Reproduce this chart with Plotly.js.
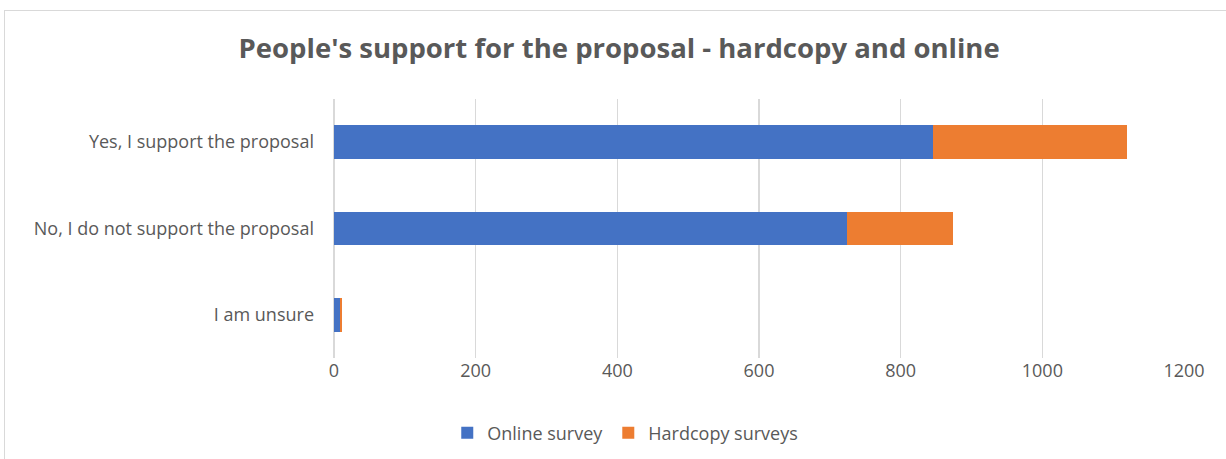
<!DOCTYPE html>
<html>
<head>
<meta charset="utf-8">
<script src="https://cdn.plot.ly/plotly-3.0.1.min.js"></script>
<style>
html,body{margin:0;padding:0;background:#fff;}
#frame{position:absolute;left:4px;top:10px;width:1240px;height:460px;border:1.5px solid #d9d9d9;box-sizing:border-box;}
#chart{position:absolute;left:0;top:0;width:1226px;height:459px;}
</style>
</head>
<body>
<div id="frame"></div>
<div id="chart"></div>
<script>
var categories = ["Yes, I support the proposal", "No, I do not support the proposal", "I am unsure"];
var onlineSurvey = [845, 724, 8];
var hardcopySurveys = [275, 150, 3];
var seriesNames = ["Online survey", "Hardcopy surveys"];
var xTicks = [0, 200, 400, 600, 800, 1000, 1200];

var font = "'Open Sans', Lato, sans-serif";
var traces = [
  {type: "bar", orientation: "h", name: seriesNames[0], y: categories, x: onlineSurvey,
   marker: {color: "#4472C4"}, hoverinfo: "x+name"},
  {type: "bar", orientation: "h", name: seriesNames[1], y: categories, x: hardcopySurveys,
   marker: {color: "#ED7D31"}, hoverinfo: "x+name"}
];
var layout = {
  width: 1226, height: 459,
  paper_bgcolor: "rgba(0,0,0,0)", plot_bgcolor: "rgba(0,0,0,0)",
  margin: {l: 334, r: 42, t: 99, b: 100.5},
  barmode: "stack", bargap: 0.61,
  title: {text: "People's support for the proposal - hardcopy and online",
    font: {family: font, size: 27.5, color: "#595959", weight: "bold"},
    x: 0.505, xref: "container", xanchor: "center", y: 1 - 48/459, yref: "container", yanchor: "middle"},
  xaxis: {range: [0, 1200], tickvals: xTicks, ticktext: xTicks.map(String),
    showgrid: true, gridcolor: "#d9d9d9", gridwidth: 1.3, zeroline: true, zerolinecolor: "#d9d9d9", zerolinewidth: 1.3,
    showline: false, ticks: "", tickfont: {family: font, size: 18, color: "#595959"}, ticklabelstandoff: 0, fixedrange: true},
  yaxis: {categoryorder: "array", categoryarray: categories, autorange: "reversed",
    showgrid: false, zeroline: false, showline: false, ticks: "",
    tickfont: {family: font, size: 18, color: "#595959"}, ticklabelstandoff: 19, fixedrange: true},
  showlegend: true,
  legend: {orientation: "h", xref: "container", x: 0.51, xanchor: "center", yref: "container", y: 1 - 433/459, yanchor: "middle",
    font: {family: font, size: 18, color: "#595959"}, itemwidth: 30, traceorder: "normal"}
};
Plotly.newPlot("chart", traces, layout, {displayModeBar: false, staticPlot: true});
</script>
</body>
</html>
